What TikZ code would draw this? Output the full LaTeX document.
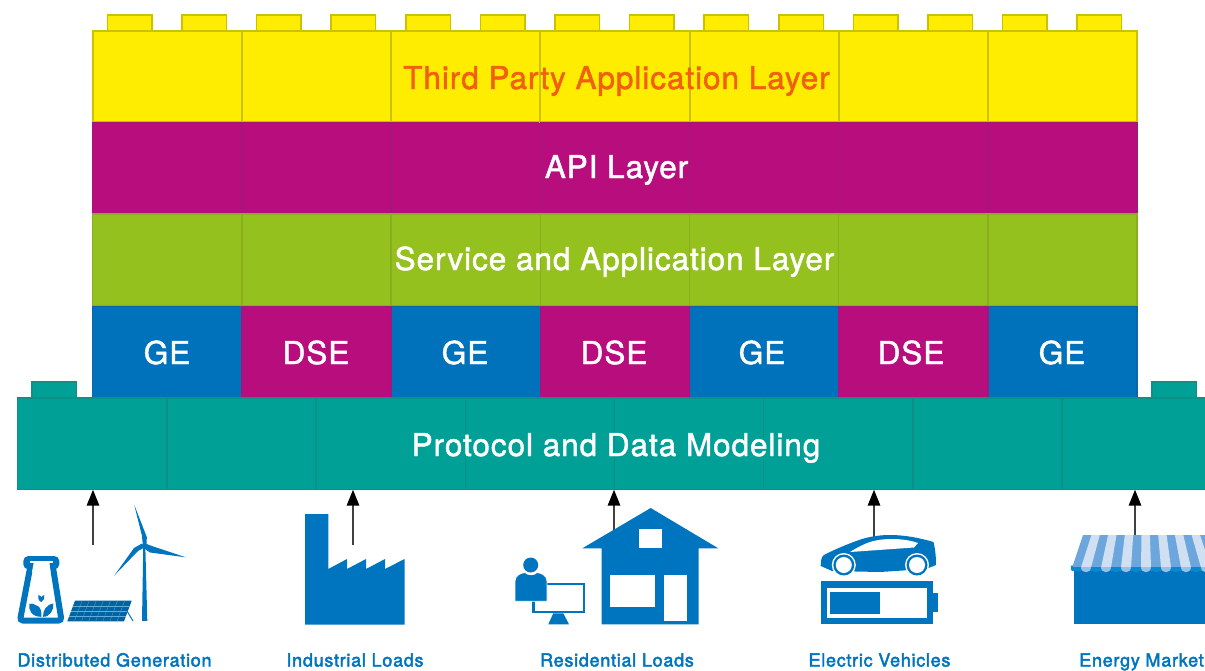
\documentclass[tikz,border=0pt]{standalone}
\usepackage{fontspec}
\setmainfont{TeX Gyre Heros}
\newfontfamily\layerfont[LetterSpace=3,FakeBold=1.5]{TeX Gyre Heros}
\newfontfamily\sourcefont[LetterSpace=4,FakeBold=2.5]{TeX Gyre Heros}
\usepackage{tikz}
\usetikzlibrary{arrows.meta,positioning}
\definecolor{iconblue}{HTML}{0075BF}
\definecolor{brickyellow}{HTML}{FFED00}
\definecolor{brickpurple}{HTML}{B80D7C}
\definecolor{brickgreen}{HTML}{95C11F}
\definecolor{brickblue}{HTML}{0072BC}
\definecolor{brickteal}{HTML}{00A096}
\definecolor{edgeyellow}{HTML}{C9C200}
\definecolor{edgepurple}{HTML}{A3167A}
\definecolor{edgegreen}{HTML}{88AE20}
\definecolor{edgeblue}{HTML}{0A66A8}
\definecolor{edgeteal}{HTML}{0C9187}
\definecolor{stripedark}{HTML}{6CA6DC}
\definecolor{stripelight}{HTML}{D0DFF2}
\definecolor{scallop}{HTML}{0888CF}
\definecolor{labelorange}{HTML}{F1600E}
\tikzset{
    >={Stealth[]},
    brick/.style={rectangle,draw,line width=1.5pt,inner sep=0pt,outer sep=0pt,anchor=north west,minimum width=149.2pt,minimum height=91.7pt},
    stud/.style={rectangle,draw,line width=1.5pt,inner sep=0pt,outer sep=0pt,anchor=north west,minimum width=44.5pt,minimum height=16pt},
    layer/.style={anchor=base,inner sep=0pt,text=white,font=\fontsize{31.5}{31.5}\layerfont},
    source/.style={anchor=base,inner sep=0pt,text=iconblue,font=\fontsize{18}{18}\sourcefont},
    icon/.style={fill=iconblue},
    flow/.style={draw=black!75,line width=1.6pt,-{Triangle[length=16pt,width=12.5pt,color=black]}}
}
\begin{document}
\begin{tikzpicture}[x=1pt,y=-1pt]
    \useasboundingbox (0,0) rectangle (1205,670);
    \clip (0,0) rectangle (1205,670);
    % studs on top of the wall and on the base
    \foreach \i in {0,...,13}
        \node[stud,fill=brickyellow,draw=edgeyellow] (top\i) at ({107.4+74.6*\i},15) {};
    \node[stud,fill=brickteal,draw=edgeteal] (studl) at (32,382) {};
    \node[stud,fill=brickteal,draw=edgeteal] (studr) at (1152,382) {};
    % the wall
    \foreach \i in {1,...,7} {
        \node[brick,fill=brickyellow,draw=edgeyellow,line width=2pt] (third\i) at ({92.7+149.2*(\i-1)},30.7) {};
        \node[brick,fill=brickpurple,draw=edgepurple] (api\i) at ({92.7+149.2*(\i-1)},122.4) {};
        \node[brick,fill=brickgreen,draw=edgegreen] (serv\i) at ({92.7+149.2*(\i-1)},214.1) {};
    }
    \foreach \i in {1,3,5,7}
        \node[brick,fill=brickblue,draw=edgeblue] (mod\i) at ({92.7+149.2*(\i-1)},306.3) {};
    \foreach \i in {2,4,6}
        \node[brick,fill=brickpurple,draw=edgepurple] (mod\i) at ({92.7+149.2*(\i-1)},306.3) {};
    \foreach \i in {1,...,8}
        \node[brick,fill=brickteal,draw=edgeteal] (proto\i) at ({17.7+149.2*(\i-1)},398) {};
    % layer names
    \node[layer,text=labelorange] (thirdname) at (616.5,89) {Third Party Application Layer};
    \node[layer] (apiname) at (616.5,178) {API Layer};
    \node[layer] (servname) at (614.5,270) {Service and Application Layer};
    \node[layer] (ge1) at (167,364) {GE};
    \node[layer] (dse1) at (316,364) {DSE};
    \node[layer] (ge2) at (465,364) {GE};
    \node[layer] (dse2) at (614,364) {DSE};
    \node[layer] (ge3) at (762,364) {GE};
    \node[layer] (dse3) at (911,364) {DSE};
    \node[layer] (ge4) at (1062,364) {GE};
    \node[layer] (protoname) at (616,456) {Protocol and Data Modeling};
    % arrows
    \coordinate (genout) at (93,545);
    \coordinate (indout) at (353,545);
    \coordinate (resout) at (614,532);
    \coordinate (evout) at (874,537);
    \coordinate (mktout) at (1135,537);
    \draw[flow] (genout) -- (genout |- proto1.south);
    \draw[flow] (indout) -- (indout |- proto3.south);
    \draw[flow] (resout) -- (resout |- proto4.south);
    \draw[flow] (evout) -- (evout |- proto6.south);
    \draw[flow] (mktout) -- (mktout |- proto8.south);
    % flask
    \fill[icon,rounded corners=5pt] (23.3,556) rectangle (59.3,569.3);
    \draw[iconblue,line width=6pt,rounded corners=3pt] (31,563) -- (20,620.5) -- (61.5,620.5) -- (52.3,563);
    \fill[white] (34,561.2) -- (49.3,561.2) -- (50.5,572) -- (32,572) -- cycle;
    \draw[white,line width=1.4pt] (29.5,562) -- (53,562);
    \fill[icon] (41.5,616.8) .. controls (32,617) and (28,610) .. (29.3,604) .. controls (33,602.5) and (36,606) .. (38,606) .. controls (41,608) and (41.5,612) .. (41.5,616.8) -- cycle;
    \fill[icon] (43,616.8) .. controls (43,610) and (46,605) .. (53.3,603.5) .. controls (54,610) and (50,617) .. (43,616.8) -- cycle;
    \fill[icon] (41.3,602) .. controls (38,601) and (38,597) .. (38.5,595) .. controls (40,596) and (41,596) .. (41.3,597) .. controls (41.6,596) and (43,596) .. (44.3,595) .. controls (44.5,598) and (44,601) .. (41.3,602) -- cycle;
    % solar panel
    \fill[iconblue!85!black] (75,600.7) -- (131.7,600.7) -- (124,621.3) -- (67.3,621.3) -- cycle;
    \foreach \i in {1,...,7}
        \draw[iconblue!60!white,line width=0.25pt] ({75+7.09*\i},600.7) -- ({67.3+7.09*\i},621.3);
    \foreach \i in {1,2,3}
        \draw[iconblue!60!white,line width=0.25pt] ({75-1.93*\i},{600.7+5.15*\i}) -- ({131.7-1.93*\i},{600.7+5.15*\i});
    \draw[iconblue,line width=1pt] (127,611) -- (133,621);
    % wind turbine
    \fill[icon] (143.3,545) -- (145.3,545) -- (147.3,620.8) -- (142,620.8) -- cycle;
    \fill[icon] (134.3,505) -- (146.8,537) -- (146.5,546) -- (143,546) -- (141.8,535) -- cycle;
    \fill[icon] (144,543) -- (152,546) -- (185.7,557.3) -- (150,552.5) -- (145,549) -- cycle;
    \fill[icon] (145.5,547) -- (138,551) -- (114.3,575.5) -- (134,548) -- (142,543.5) -- cycle;
    % factory
    \fill[icon] (305,514) -- (328.3,514) -- (328.3,569) -- (347,559) -- (347,569) -- (366,559) -- (366,569) -- (385,559) -- (385,569) -- (404.5,559) -- (404.5,624.5) -- (305,624.5) -- cycle;
    % monitor and person
    \draw[iconblue,line width=2.3pt] (533.5,583.8) rectangle (583.8,612.2);
    \fill[icon] (553.3,613.3) -- (563.3,613.3) -- (569,624.3) -- (548.3,624.3) -- cycle;
    \fill[icon] (530.7,565) circle[radius=7.5];
    \fill[icon,draw=white,line width=0.8pt] (515,601.3) -- (515,581) .. controls (515,575) and (521,573) .. (525,572.5) .. controls (528,575.5) and (534,575.5) .. (537,572.5) .. controls (541,573) and (547,575) .. (547,581) -- (547,601.3) -- cycle;
    % house
    \fill[icon] (650.7,508) -- (718.3,548.3) -- (698.7,548.3) -- (698.7,624.3) -- (601.7,624.3) -- (601.7,548.3) -- (582.3,548.3) -- cycle;
    \fill[white] (639,529.3) rectangle (661.7,547.7);
    \fill[white] (610,575) rectangle (655.3,607);
    \fill[white] (663.7,575.3) rectangle (686.7,620.7);
    % car
    \fill[icon] (820.7,566) .. controls (820.5,560) and (822,556) .. (824,555) .. controls (835,549) and (853,542) .. (862,539) .. controls (872,536) and (882,535) .. (890,535) .. controls (905,535) and (920,538) .. (933.5,542) .. controls (935,548) and (936,555) .. (936,565) -- (926,569) -- (880,572) -- (832,571) -- cycle;
    \fill[white] (850,552) .. controls (858,547) and (864,544) .. (870,542) .. controls (878,539.5) and (885,539) .. (892,539) .. controls (902,539) and (911,540.5) .. (918,543) -- (914,547.5) -- cycle;
    \foreach \cx in {843.8,917} {
        \fill[white] (\cx,565) circle[radius=12];
        \fill[icon] (\cx,565) circle[radius=10.5];
        \fill[white] (\cx,565) circle[radius=8];
    }
    % battery
    \fill[icon] (820.7,581) rectangle (933.3,624.3);
    \fill[white] (827.3,587.7) rectangle (926.7,617.7);
    \fill[icon] (830.3,592) rectangle (880.3,614);
    \fill[icon] (933.3,593.3) rectangle (938.3,611.7);
    % market
    \fill[stripedark] (1083,535) -- (1208,535) -- (1220,568) -- (1072,568) -- cycle;
    \foreach \k in {-3,...,3}
        \fill[stripelight] ({1145.7+16.7*\k-4.2},535) -- ({1145.7+16.7*\k+4.2},535) -- ({1146+20*\k+5},567.5) -- ({1146+20*\k-5},567.5) -- cycle;
    \fill[scallop] (1072,566.8) rectangle (1210,571);
    \fill[scallop,rounded corners=1.5pt] (1070.8,565) -- (1073,565) -- (1073,571) -- (1070.8,571) -- cycle;
    \fill[icon] (1074.3,570.8) rectangle (1210,624.3);
    \foreach \k in {-3,...,3} {
        \fill[scallop] ({1146+20*\k+5},566.8) .. controls ({1146+20*\k+5},573.5) and ({1146+20*\k+15},573.5) .. ({1146+20*\k+15},566.8) -- cycle;
        \fill[stripedark!70!white] ({1146+20*\k-5},566.8) .. controls ({1146+20*\k-5},573.5) and ({1146+20*\k+5},573.5) .. ({1146+20*\k+5},566.8) -- cycle;
    }
    % source names
    \node[source] (genname) at (114.5,666.5) {Distributed Generation};
    \node[source] (indname) at (355,666.5) {Industrial Loads};
    \node[source] (resname) at (617,666.5) {Residential Loads};
    \node[source] (evname) at (879.5,666.5) {Electric Vehicles};
    \node[source] (mktname) at (1141.5,666.5) {Energy Market};
\end{tikzpicture}
\end{document}
